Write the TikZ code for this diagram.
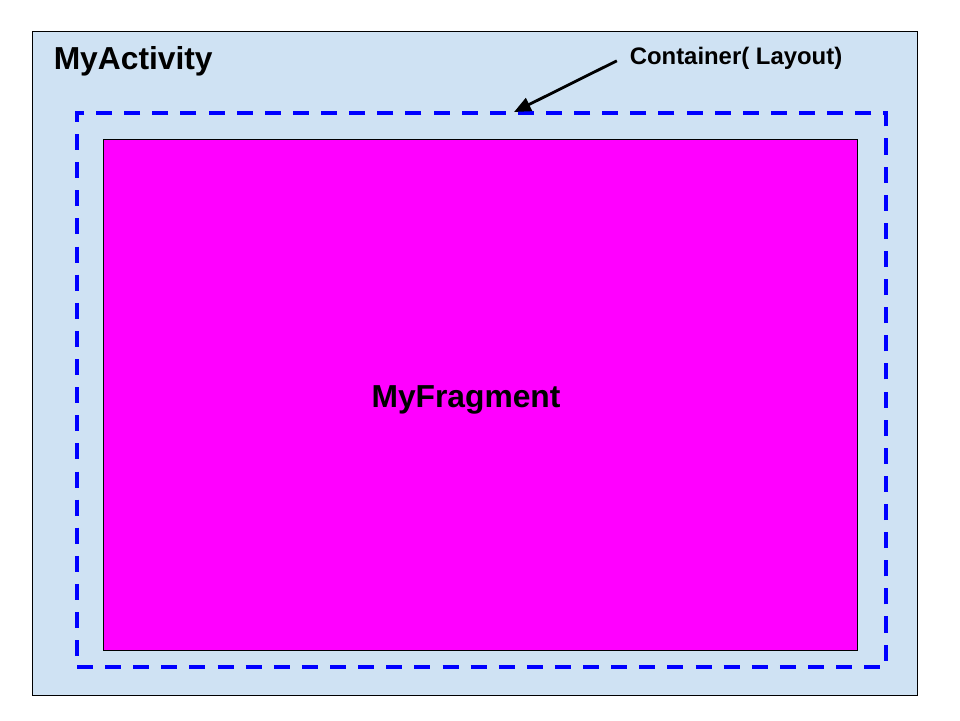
\documentclass[tikz,border=0pt]{standalone}
\usepackage{fontspec}
\setmainfont{Liberation Sans}
\usetikzlibrary{arrows.meta, positioning}
\definecolor{actblue}{HTML}{CFE2F3}
\definecolor{frgmag}{HTML}{FF00FF}

\begin{document}
\begin{tikzpicture}[
  frame/.style={draw, line width=0.7pt, inner sep=0pt},
  dashbox/.style={draw=blue, line width=2.8pt, dash pattern=on 11.4pt off 8.6pt, inner sep=0pt},
  title/.style={font=\fontsize{22.6}{26}\selectfont\bfseries},
  arr/.style={-{Triangle[length=12pt, width=10pt]}, line width=2pt}
]
\useasboundingbox[fill=white] (0,0) rectangle (24,18);
\node[frame, fill=actblue, minimum width=22.125cm, minimum height=16.6cm] (act) at (11.8625, 8.925) {};
\node[dashbox, minimum width=20.225cm, minimum height=13.85cm] (cont) at (12.0375, 8.25) {};
\node[frame, fill=frgmag, minimum width=18.85cm, minimum height=12.775cm] (frag) at (12.0, 8.1375) {};
\node[title, anchor=west] (actlbl) at (1.22, 16.475) {MyActivity};
\node[title] (fraglbl) at (11.65, 8.0) {MyFragment};
\node[font=\fontsize{17}{20}\selectfont\bfseries] (contlbl) at (18.4, 16.55) {Container( Layout)};
\coordinate (tip) at (12.85, 15.2);
\draw[arr] ([xshift=-0.2cm, yshift=-2pt]contlbl.west) -- (tip);
\end{tikzpicture}
\end{document}
